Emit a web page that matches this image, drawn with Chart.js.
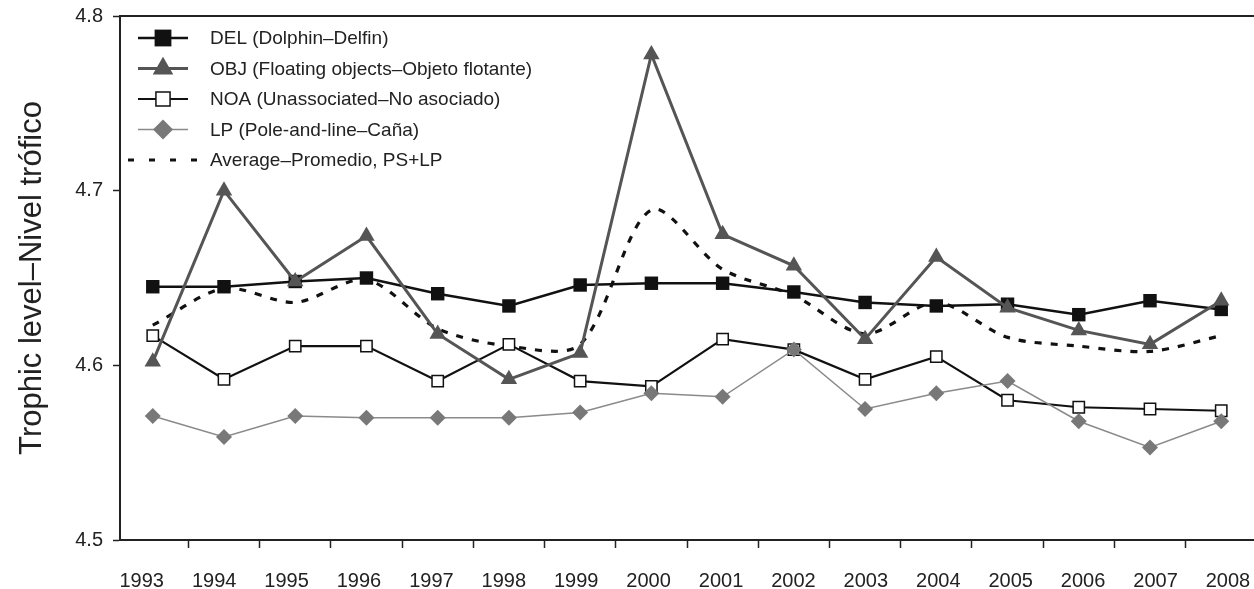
<!DOCTYPE html>
<html>
<head>
<meta charset="utf-8">
<script src="https://cdn.jsdelivr.net/npm/chart.js@4.4.1/dist/chart.umd.min.js"></script>
<style>
  body { margin: 0; background: #fff; }
  #wrap { width: 1254px; height: 589px; }
</style>
</head>
<body>
<div id="wrap"><canvas id="graphCanvas"></canvas></div>
<script>
var years = [1993, 1994, 1995, 1996, 1997, 1998, 1999, 2000, 2001, 2002, 2003, 2004, 2005, 2006, 2007, 2008];
var yearLabels = ['1993', '1994', '1995', '1996', '1997', '1998', '1999', '2000', '2001', '2002', '2003', '2004', '2005', '2006', '2007', '2008'];
var yTicks = [4.5, 4.6, 4.7, 4.8];

var dataDel = [4.645, 4.645, 4.648, 4.650, 4.641, 4.634, 4.646, 4.647, 4.647, 4.642, 4.636, 4.634, 4.635, 4.629, 4.637, 4.632];
var dataObj = [4.602, 4.700, 4.648, 4.674, 4.618, 4.592, 4.607, 4.778, 4.675, 4.657, 4.615, 4.662, 4.633, 4.620, 4.612, 4.637];
var dataNoa = [4.617, 4.592, 4.611, 4.611, 4.591, 4.612, 4.591, 4.588, 4.615, 4.609, 4.592, 4.605, 4.580, 4.576, 4.575, 4.574];
var dataLp = [4.571, 4.559, 4.571, 4.570, 4.570, 4.570, 4.573, 4.584, 4.582, 4.609, 4.575, 4.584, 4.591, 4.568, 4.553, 4.568];
var dataAvg = [4.623, 4.644, 4.636, 4.649, 4.621, 4.611, 4.612, 4.689, 4.655, 4.640, 4.618, 4.636, 4.616, 4.611, 4.608, 4.617];

var seriesNames = [
  'DEL (Dolphin\u2013Delfin)',
  'OBJ (Floating objects\u2013Objeto flotante)',
  'NOA (Unassociated\u2013No asociado)',
  'LP (Pole-and-line\u2013Ca\u00f1a)',
  'Average\u2013Promedio, PS+LP'
];

// tick marks sit between the years, labels use their own (slightly wider) axis
var xTickMarks = years.slice(0, -1).map(function (y) { return y + 0.5; });

function toPoints(arr) {
  return arr.map(function (v, i) { return { x: years[i], y: v }; });
}

function drawMarker(ctx, style, x, y, r, fill, stroke, bw) {
  ctx.beginPath();
  if (style === 'rect') {
    var s = r * Math.SQRT1_2;
    ctx.rect(x - s, y - s, 2 * s, 2 * s);
  } else if (style === 'triangle') {
    ctx.moveTo(x, y - r);
    ctx.lineTo(x + r * 0.866, y + r / 2);
    ctx.lineTo(x - r * 0.866, y + r / 2);
    ctx.closePath();
  } else if (style === 'rectRot') {
    ctx.moveTo(x, y - r);
    ctx.lineTo(x + r, y);
    ctx.lineTo(x, y + r);
    ctx.lineTo(x - r, y);
    ctx.closePath();
  } else {
    return;
  }
  ctx.fillStyle = fill;
  ctx.fill();
  if (bw) {
    ctx.lineWidth = bw;
    ctx.strokeStyle = stroke;
    ctx.stroke();
  }
}

var frameTop = {
  id: 'frameTop',
  beforeDatasetsDraw: function (chart) {
    var a = chart.chartArea;
    var ctx = chart.ctx;
    ctx.save();
    ctx.strokeStyle = '#222';
    ctx.lineWidth = 2;
    ctx.beginPath();
    ctx.moveTo(a.left, a.top);
    ctx.lineTo(chart.width, a.top);
    ctx.stroke();
    ctx.restore();
  }
};

var legendBox = {
  id: 'legendBox',
  afterDatasetsDraw: function (chart) {
    var ctx = chart.ctx;
    var a = chart.chartArea;
    var y0 = a.top + 22;
    chart.data.datasets.forEach(function (ds, i) {
      var y = y0 + i * 30.5;
      var dashed = !!ds.borderDash;
      var xs = dashed ? a.left + 8 : a.left + 18;
      var xe = dashed ? a.left + 78 : a.left + 68;
      ctx.save();
      ctx.strokeStyle = ds.borderColor;
      ctx.lineWidth = ds.borderWidth;
      ctx.setLineDash(dashed ? [6, 15] : []);
      ctx.beginPath();
      ctx.moveTo(xs, y);
      ctx.lineTo(xe, y);
      ctx.stroke();
      ctx.setLineDash([]);
      drawMarker(ctx, ds.pointStyle, a.left + 43, y, ds.pointRadius * 1.25, ds.pointBackgroundColor, ds.pointBorderColor, ds.pointBorderWidth);
      ctx.fillStyle = '#222';
      ctx.font = '19px "Liberation Sans", Arial, sans-serif';
      ctx.textBaseline = 'middle';
      ctx.fillText(ds.label, a.left + 90, y + 1);
      ctx.restore();
    });
  }
};

Chart.defaults.font.family = '"Liberation Sans", Arial, sans-serif';
Chart.defaults.color = '#222';

var chartdata = {
  datasets: [
    {
      label: seriesNames[0],
      data: toPoints(dataDel),
      borderColor: '#111',
      borderWidth: 2.5,
      pointStyle: 'rect',
      pointRadius: 9.5,
      pointBackgroundColor: '#111',
      pointBorderColor: '#111',
      pointBorderWidth: 0,
      order: 2
    },
    {
      label: seriesNames[1],
      data: toPoints(dataObj),
      borderColor: '#555',
      borderWidth: 3,
      pointStyle: 'triangle',
      pointRadius: 9.5,
      pointBackgroundColor: '#555',
      pointBorderColor: '#555',
      pointBorderWidth: 0,
      order: 1
    },
    {
      label: seriesNames[2],
      data: toPoints(dataNoa),
      borderColor: '#111',
      borderWidth: 2.2,
      pointStyle: 'rect',
      pointRadius: 8,
      pointBackgroundColor: '#fff',
      pointBorderColor: '#111',
      pointBorderWidth: 1.5,
      order: 4
    },
    {
      label: seriesNames[3],
      data: toPoints(dataLp),
      borderColor: '#8a8a8a',
      borderWidth: 1.5,
      pointStyle: 'rectRot',
      pointRadius: 8,
      pointBackgroundColor: '#787878',
      pointBorderColor: '#787878',
      pointBorderWidth: 0,
      order: 3
    },
    {
      label: seriesNames[4],
      data: toPoints(dataAvg),
      borderColor: '#111',
      borderWidth: 3.2,
      borderDash: [7, 9],
      pointStyle: false,
      pointRadius: 0,
      tension: 0.3,
      order: 5
    }
  ]
};

var graphTarget = document.getElementById('graphCanvas');
var lineGraph = new Chart(graphTarget, {
  type: 'line',
  data: chartdata,
  plugins: [frameTop, legendBox],
  options: {
    responsive: true,
    maintainAspectRatio: false,
    animation: false,
    layout: { autoPadding: false, padding: { top: 16, right: 0, left: 0, bottom: 0 } },
    plugins: {
      legend: { display: false },
      tooltip: { enabled: false }
    },
    scales: {
      x: {
        type: 'linear',
        position: 'bottom',
        min: 1992.54,
        max: 2008.46,
        afterBuildTicks: function (axis) {
          axis.ticks = xTickMarks.map(function (v) { return { value: v }; });
        },
        afterFit: function (axis) {
          axis.height = 8;
          axis.paddingLeft = 0;
          axis.paddingRight = 0;
        },
        ticks: { display: false },
        grid: {
          drawOnChartArea: false,
          tickLength: 8,
          tickWidth: 1.5,
          tickColor: '#222'
        },
        border: { color: '#222', width: 2 }
      },
      xLabels: {
        type: 'linear',
        position: 'bottom',
        min: 1992.7,
        max: 2008.36,
        afterBuildTicks: function (axis) {
          axis.ticks = years.map(function (v) { return { value: v }; });
        },
        afterFit: function (axis) {
          axis.height = 41;
          axis.paddingLeft = 0;
          axis.paddingRight = 0;
        },
        ticks: {
          autoSkip: false,
          maxRotation: 0,
          padding: 21,
          font: { size: 20 },
          color: '#222',
          callback: function (value) {
            var i = years.indexOf(value);
            return i >= 0 ? yearLabels[i] : '';
          }
        },
        grid: { display: false, drawTicks: false },
        border: { display: false }
      },
      y: {
        min: 4.5,
        max: 4.8,
        afterBuildTicks: function (axis) {
          axis.ticks = yTicks.map(function (v) { return { value: v }; });
        },
        afterFit: function (axis) {
          axis.width = 120;
          axis.paddingTop = 0;
          axis.paddingBottom = 0;
        },
        ticks: {
          padding: 10,
          font: { size: 20 },
          color: '#222',
          callback: function (value) { return value.toFixed(1); }
        },
        grid: {
          drawOnChartArea: false,
          tickLength: 7,
          tickWidth: 1.5,
          tickColor: '#222'
        },
        border: { color: '#222', width: 2 },
        title: {
          display: true,
          text: 'Trophic level\u2013Nivel tr\u00f3fico',
          font: { size: 31 },
          color: '#222',
          padding: { top: 14, bottom: 0 }
        }
      }
    }
  }
});
</script>
</body>
</html>
